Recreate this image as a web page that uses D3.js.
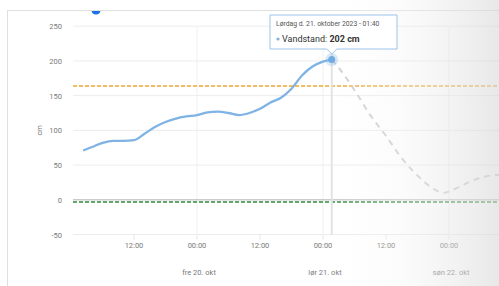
<!DOCTYPE html>
<html><head><meta charset="utf-8">
<script src="https://cdn.jsdelivr.net/npm/d3@7"></script>
<style>body{margin:0;background:#fff;}svg{display:block;font-family:Roboto,"Noto Sans",sans-serif;}</style>
</head><body><svg id="c" width="499" height="286"></svg>
<script>
// Observed water level (hours since Thu 19 Oct 2023 00:00, cm)
const obsHours = [2.3,4,6,8,10,12,14,16,18,20,22,24,26,28,30,32,34,36,38,40,42,44,46,48,49.67];
const obsValues = [71,76,82,85,85,86,95,105,112,117,120,122,126,127,125,122,125,131,140,147,160,179,192,199,202];
// Forecast
const fcHours = [49.67,51,54,57,60,63,66,69,71,72,74,76,78,80,82];
const fcValues = [202,190,158,122,92,60,35,16,10,12,19,26,32,35,36];
const yTicks = [-50,0,50,100,150,200,250];
const xTickHours = [12,24,36,48,60,72];
const xTickLabels = ["12:00","00:00","12:00","00:00","12:00","00:00"];
const dayHours = [24,48,72];
const dayLabels = ["fre 20. okt","lør 21. okt","søn 22. okt"];
const warnLevel = 164;
const lowLevel = -3;
const tipHour = 49.67, tipValue = 202;
const tipTitle = "Lørdag d. 21. oktober 2023 - 01:40";

const svg = d3.select("#c");
const x = d3.scaleLinear().domain([0, 24]).range([71, 197]);
const y = d3.scaleLinear().domain([0, 250]).range([199.8, 26.2]);
const plotL = 73, plotR = 499;

svg.append("rect").attr("x",7.5).attr("y",10.5).attr("width",520).attr("height",300)
  .attr("fill","#fff").attr("stroke","#e0e0e0");
svg.append("defs").append("clipPath").attr("id","card").append("rect").attr("x",8).attr("y",11).attr("width",500).attr("height",300);
const g = svg.append("g").attr("clip-path","url(#card)");
g.append("circle").attr("cx",96).attr("cy",10).attr("r",4.5).attr("fill","#1a73e8");

g.selectAll(".hg").data(yTicks).enter().append("line")
  .attr("x1",plotL).attr("x2",plotR).attr("y1",d=>y(d)).attr("y2",d=>y(d))
  .attr("stroke","#ececec").attr("stroke-width",1);
g.selectAll(".vg").data(dayHours).enter().append("line")
  .attr("x1",d=>x(d)).attr("x2",d=>x(d)).attr("y1",26).attr("y2",235)
  .attr("stroke","#f0f0f0").attr("stroke-width",1);
g.selectAll(".tm").data(xTickHours).enter().append("line")
  .attr("x1",d=>x(d)).attr("x2",d=>x(d)).attr("y1",y(-50)).attr("y2",y(-50)+5)
  .attr("stroke","#e6e6e6");

g.selectAll(".yl").data(yTicks).enter().append("text")
  .attr("x",62).attr("y",d=>y(d)+3).attr("text-anchor","end")
  .attr("font-size",7.5).attr("fill","#7a7a7a").text(d=>d);
g.append("text").attr("transform","translate(42,"+y(100)+") rotate(-90)")
  .attr("text-anchor","middle").attr("font-size",7.5).attr("fill","#7a7a7a").text("cm");
g.selectAll(".xl").data(xTickHours).enter().append("text")
  .attr("x",d=>x(d)).attr("y",248).attr("text-anchor","middle")
  .attr("font-size",7.5).attr("fill","#7a7a7a").text((d,i)=>xTickLabels[i]);
g.selectAll(".dl").data(dayHours).enter().append("text")
  .attr("x",d=>x(d)+2).attr("y",275).attr("text-anchor","middle")
  .attr("font-size",7.5).attr("fill","#7a7a7a").text((d,i)=>dayLabels[i]);

g.append("line").attr("x1",plotL).attr("x2",plotR).attr("y1",y(0)).attr("y2",y(0))
  .attr("stroke","#bbb").attr("stroke-width",1);
g.append("line").attr("x1",plotL).attr("x2",plotR).attr("y1",y(lowLevel)).attr("y2",y(lowLevel))
  .attr("stroke","#2e8b3a").attr("stroke-width",1.5).attr("stroke-dasharray","4,2");
g.append("line").attr("x1",plotL).attr("x2",plotR).attr("y1",y(warnLevel)).attr("y2",y(warnLevel))
  .attr("stroke","#f0a830").attr("stroke-width",1.5).attr("stroke-dasharray","4,2");

g.append("line").attr("x1",x(tipHour)).attr("x2",x(tipHour)).attr("y1",26).attr("y2",235)
  .attr("stroke","#e2e2e2").attr("stroke-width",2);

const line = d3.line().x(d=>x(d[0])).y(d=>y(d[1])).curve(d3.curveMonotoneX);
g.append("path").datum(fcHours.map((h,i)=>[h,fcValues[i]])).attr("d",line)
  .attr("fill","none").attr("stroke","#cfcfcf").attr("stroke-width",2).attr("stroke-dasharray","6,5");
g.append("path").datum(obsHours.map((h,i)=>[h,obsValues[i]])).attr("d",line)
  .attr("fill","none").attr("stroke","#7fb3e3").attr("stroke-width",2.3);
g.append("circle").attr("cx",x(tipHour)).attr("cy",y(tipValue)).attr("r",6.5).attr("fill","#7fb3e3").attr("opacity",0.3);
g.append("circle").attr("cx",x(tipHour)).attr("cy",y(tipValue)).attr("r",3.5).attr("fill","#6aa8e0");

const grad = svg.select("defs").append("linearGradient").attr("id","fade").attr("x1","0").attr("x2","1");
grad.append("stop").attr("offset","0").attr("stop-color","#fff").attr("stop-opacity",0);
grad.append("stop").attr("offset","0.45").attr("stop-color","#f2f2f2").attr("stop-opacity",0.3);
grad.append("stop").attr("offset","1").attr("stop-color","#d8d8d8").attr("stop-opacity",0.6);
svg.append("rect").attr("x",320).attr("y",0).attr("width",179).attr("height",286).attr("fill","url(#fade)");

const tx = x(tipHour), ty = y(tipValue);
const tip = svg.append("g");
const bx = 270, by = 15, bw = 127, bh = 34;
tip.append("path").attr("d",`M${bx},${by} h${bw} v${bh} H${tx+5} l-5,5 l-5,-5 H${bx} Z`)
  .attr("fill","rgba(255,255,255,0.95)").attr("stroke","#9cc4ea").attr("stroke-width",1);
tip.append("text").attr("x",bx+6).attr("y",by+11).attr("font-size",6.8).attr("fill","#555").text(tipTitle);
tip.append("circle").attr("cx",bx+8).attr("cy",by+24).attr("r",1.6).attr("fill","#7fb3e3");
const t2 = tip.append("text").attr("x",bx+12).attr("y",by+27).attr("font-size",9).attr("fill","#333");
t2.append("tspan").text("Vandstand: ");
t2.append("tspan").attr("font-weight","bold").text(tipValue + " cm");
</script></body></html>
